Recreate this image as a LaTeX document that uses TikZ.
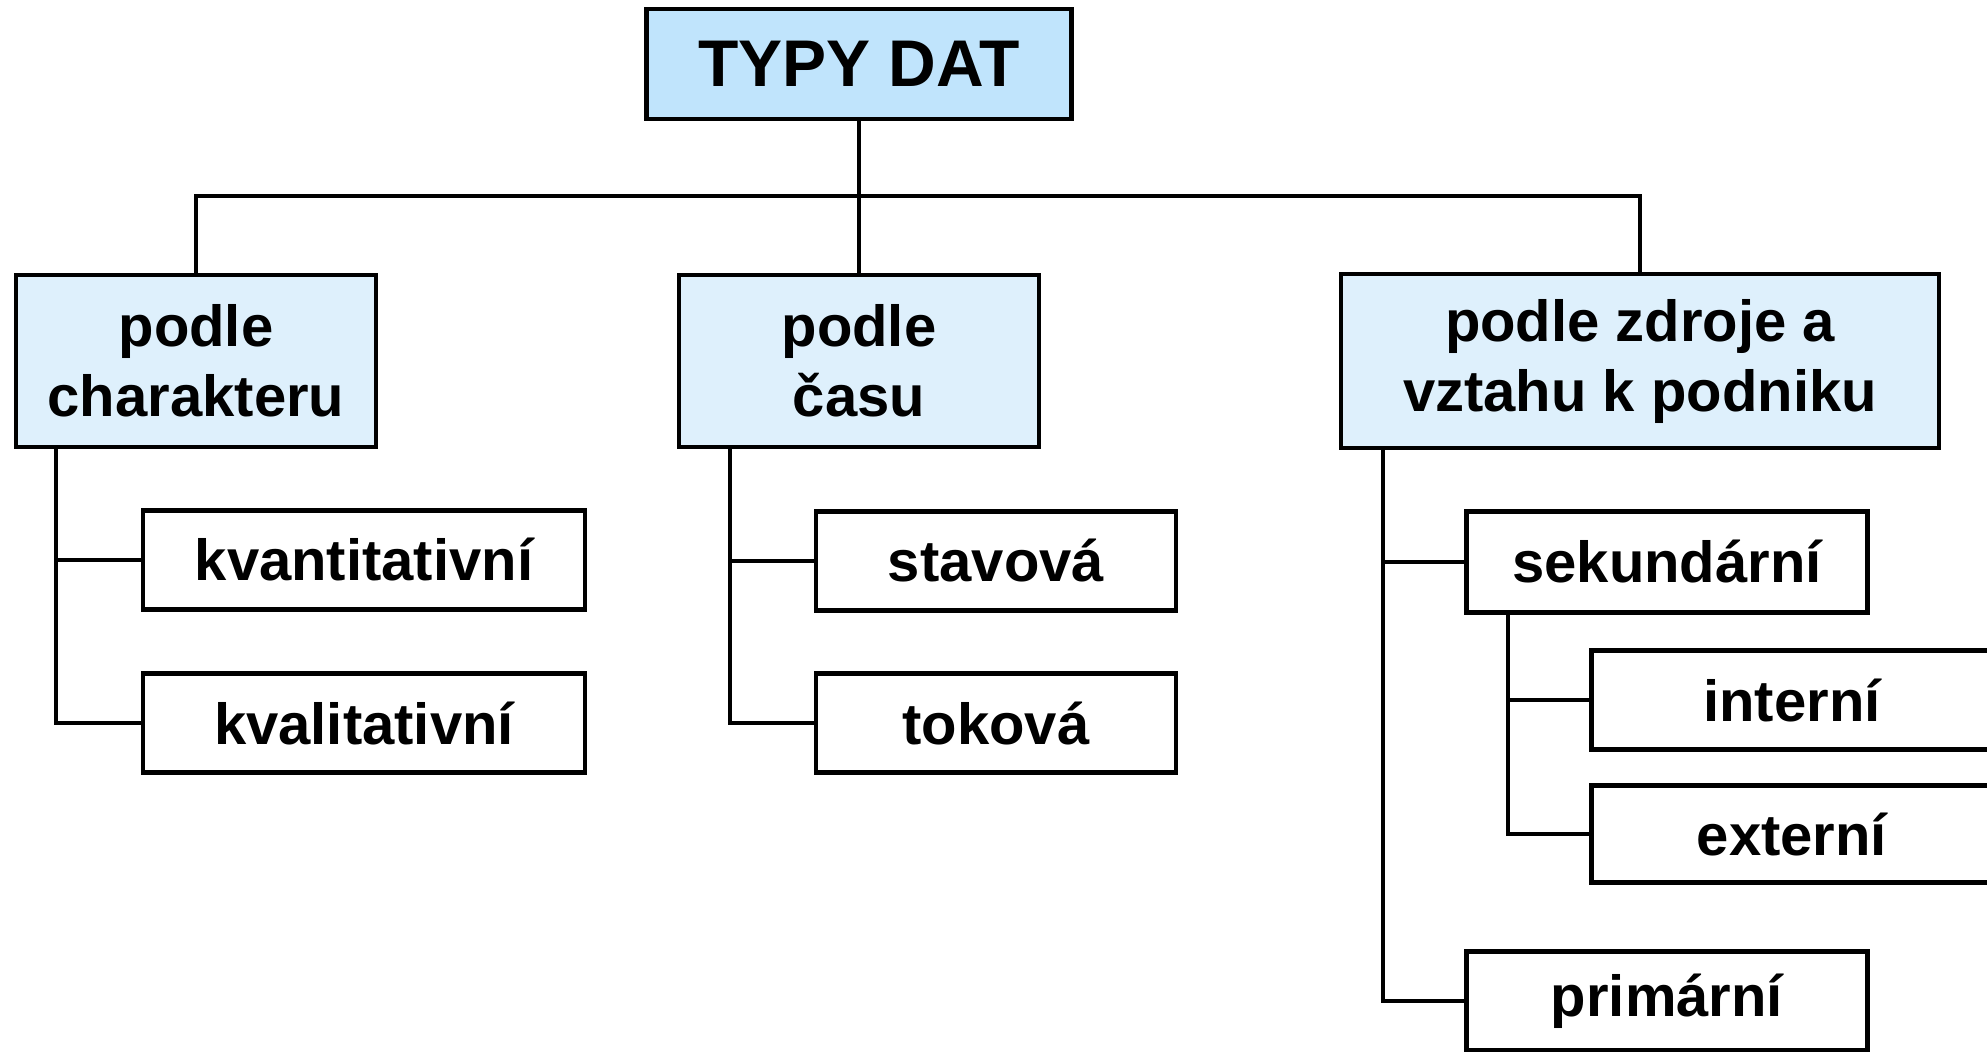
\documentclass[tikz,border=0pt]{standalone}
\usepackage{fontspec}
\setmainfont{Liberation Sans}
\definecolor{headblue}{RGB}{192,228,252}
\definecolor{catblue}{RGB}{222,240,252}
\tikzset{every picture/.style={line width=2pt}}
\tikzset{
  headbox/.style={draw, line width=2.3pt, fill=headblue, inner sep=0pt, font=\fontsize{33}{40}\selectfont\bfseries},
  catbox/.style={draw, line width=2.3pt, fill=catblue, inner sep=0pt, align=center, font=\fontsize{29}{35}\selectfont\bfseries},
  leafbox/.style={draw, line width=2.3pt, fill=white, inner sep=0pt, font=\fontsize{29}{35}\selectfont\bfseries},
}

\begin{document}
\begin{tikzpicture}[x=0.5pt,y=0.5pt,yscale=-1,xscale=1]
		\useasboundingbox (0,0) rectangle (1987,1051);

		%Shape: Rectangle [id:top] 
		\node [headbox, minimum width=212.5pt, minimum height=55pt] (typy) at (859,64) {TYPY DAT};
		%Shape: Rectangle [id:cat1] 
		\node [catbox, minimum width=180pt, minimum height=86pt] (charakter) at (196,361) {podle\\charakteru};
		%Shape: Rectangle [id:cat2] 
		\node [catbox, minimum width=180pt, minimum height=86pt] (cas) at (859,361) {podle\\času};
		%Shape: Rectangle [id:cat3] 
		\node [catbox, minimum width=299pt, minimum height=87pt] (zdroj) at (1640,361) {podle zdroje a\\vztahu k podniku};

		%Shape: Rectangle [id:leaves] 
		\node [leafbox, minimum width=221pt, minimum height=49.5pt] (kvant) at (364,560) {kvantitativní};
		\node [leafbox, minimum width=221pt, minimum height=49.5pt] (kval) at (364,723) {kvalitativní};
		\node [leafbox, minimum width=180pt, minimum height=49.5pt] (stav) at (996,561) {stavová};
		\node [leafbox, minimum width=180pt, minimum height=49.5pt] (tok) at (996,723) {toková};
		\node [leafbox, minimum width=200.5pt, minimum height=50.5pt] (sek) at (1667,562) {sekundární};
		\node [leafbox, minimum width=200.5pt, minimum height=49.5pt] (int) at (1792,700) {interní};
		\node [leafbox, minimum width=200.5pt, minimum height=48.5pt] (ext) at (1792,834) {externí};
		\node [leafbox, minimum width=200.5pt, minimum height=49.5pt] (prim) at (1667,1001) {primární};

		%Straight Lines [id:bus] 
		\coordinate (bus) at (859,196);
		\draw (typy.south) -- (bus);
		\draw (charakter.north) |- (bus) -| (zdroj.north);
		\draw (bus) -- (cas.north);

		%Straight Lines [id:branches] 
		\draw ([xshift=21pt]charakter.south west) |- (kvant.west);
		\draw ([xshift=21pt]charakter.south west) |- (kval.west);
		\draw ([xshift=26.5pt]cas.south west) |- (stav.west);
		\draw ([xshift=26.5pt]cas.south west) |- (tok.west);
		\draw ([xshift=22pt]zdroj.south west) |- (sek.west);
		\draw ([xshift=22pt]zdroj.south west) |- (prim.west);
		\draw ([xshift=22pt]sek.south west) |- (int.west);
		\draw ([xshift=22pt]sek.south west) |- (ext.west);

\end{tikzpicture}
\end{document}
